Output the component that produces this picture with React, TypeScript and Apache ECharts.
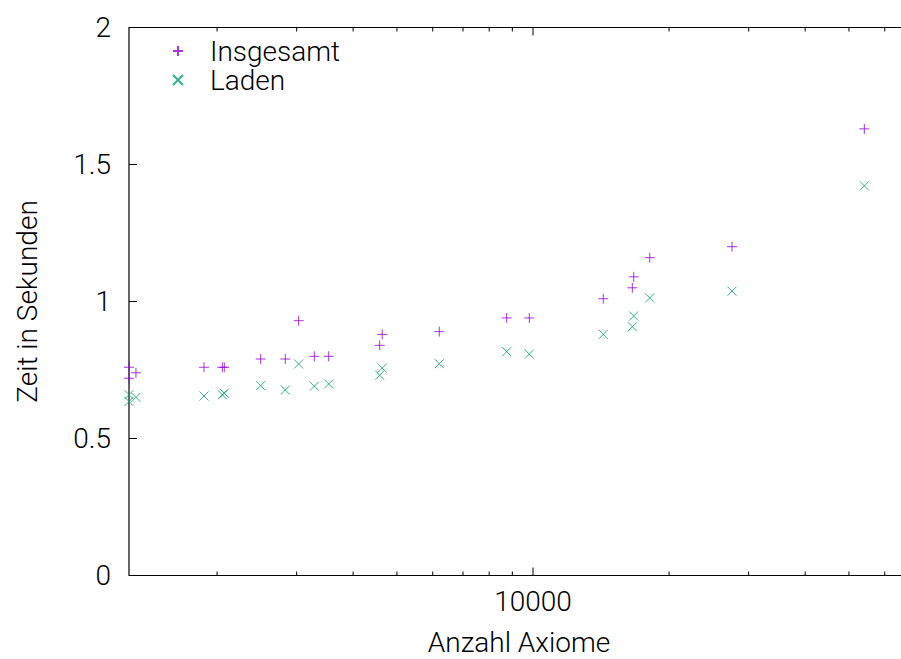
import React, { useEffect, useRef } from "react";
import * as echarts from "echarts";

// Anzahl Axiome (x) shared by both series
const axiomCounts = [
  1277, 1277, 1323, 1871, 2054, 2075, 2498, 2831, 3031, 3282, 3532,
  4579, 4638, 6203, 8745, 9813, 14304, 16586, 16704, 18124, 27556, 54075,
];
// Zeit in Sekunden
const insgesamt = [
  0.76, 0.72, 0.74, 0.76, 0.76, 0.76, 0.79, 0.79, 0.93, 0.8, 0.8,
  0.84, 0.88, 0.89, 0.94, 0.94, 1.01, 1.05, 1.09, 1.16, 1.2, 1.63,
];
const laden = [
  0.66, 0.635, 0.65, 0.655, 0.66, 0.665, 0.693, 0.677, 0.772, 0.691, 0.699,
  0.731, 0.757, 0.773, 0.817, 0.808, 0.88, 0.908, 0.947, 1.013, 1.038, 1.422,
];
const seriesNames = ["Insgesamt", "Laden"];
const xMin = 1277;
const xMax = 70000;
const majorXTicks = [10000];
const minorXTicks = [2000, 3000, 4000, 5000, 6000, 7000, 8000, 9000, 20000, 30000, 40000, 50000, 60000];
const yTicks = [0, 0.5, 1, 1.5, 2];

const FONT = "Roboto";
const WEIGHT = 300;
const TEXT = "#000";

export default function App() {
  const ref = useRef<HTMLDivElement>(null);
  useEffect(() => {
    if (!ref.current) return;
    const chart = echarts.init(ref.current, null, { renderer: "svg" });
    const tickData = [
      ...majorXTicks.map((v) => [v, 0, 8]),
      ...minorXTicks.map((v) => [v, 0, 4]),
    ];
    const font = { fontFamily: FONT, fontSize: 28, fontWeight: WEIGHT, color: TEXT };
    chart.setOption({
      animation: false,
      backgroundColor: "#fff",
      textStyle: { fontFamily: FONT },
      grid: {
        left: 129,
        top: 27.5,
        width: 786,
        height: 548,
        show: true,
        borderColor: "#000",
        borderWidth: 1.2,
        backgroundColor: "transparent",
        containLabel: false,
        outerBoundsMode: "none",
      },
      legend: {
        data: seriesNames,
        orient: "vertical",
        left: 172,
        top: 29,
        padding: 0,
        itemWidth: 10,
        itemHeight: 10,
        itemGap: -15,
        textStyle: {
          ...font,
          lineHeight: 28,
          padding: [0, 0, 16, 22],
        },
      },
      xAxis: {
        type: "log",
        logBase: 10,
        min: xMin,
        max: xMax,
        name: "Anzahl Axiome",
        nameLocation: "middle",
        nameGap: 53,
        nameTextStyle: { ...font, lineHeight: 28, padding: [0, 6, 0, 0] },
        axisLine: { show: false },
        axisTick: { show: false },
        splitLine: { show: false },
        minorTick: { show: false },
        axisLabel: {
          ...font,
          margin: 12,
          showMinLabel: false,
          showMaxLabel: false,
          formatter: (v: number) => (majorXTicks.some((t) => Math.abs(t - v) < 1e-6 * t) ? String(Math.round(v)) : ""),
        },
      },
      yAxis: {
        type: "value",
        min: yTicks[0],
        max: yTicks[yTicks.length - 1],
        interval: 0.5,
        name: "Zeit in Sekunden",
        nameLocation: "middle",
        nameGap: 88,
        nameTextStyle: { ...font },
        axisLine: { show: false },
        axisTick: { show: true, inside: true, length: 8, lineStyle: { color: "#000", width: 1 } },
        splitLine: { show: false },
        axisLabel: {
          ...font,
          margin: 18,
          formatter: (v: number) => String(v),
        },
      },
      series: [
        {
          name: seriesNames[0],
          type: "scatter",
          symbol: "path://M0,5L10,5M5,0L5,10",
          symbolSize: 10,
          itemStyle: { color: "transparent", borderColor: "#9400d3", borderWidth: 1 },
          data: axiomCounts.map((x, i) => [x, insgesamt[i]]),
          z: 3,
        },
        {
          name: seriesNames[1],
          type: "scatter",
          symbol: "path://M0,0L10,10M10,0L0,10",
          symbolSize: 9,
          itemStyle: { color: "transparent", borderColor: "#009e73", borderWidth: 1 },
          data: axiomCounts.map((x, i) => [x, laden[i]]),
          z: 3,
        },
        {
          name: "ticks",
          type: "custom",
          silent: true,
          encode: { x: 0, y: 1 },
          data: tickData,
          renderItem: (params: any, api: any) => {
            const v = api.value(0);
            const len = api.value(2);
            const pb = api.coord([v, yTicks[0]]);
            const pt = api.coord([v, yTicks[yTicks.length - 1]]);
            const st = { stroke: "#000", lineWidth: 1 };
            return {
              type: "group",
              children: [
                { type: "line", shape: { x1: pb[0], y1: pb[1], x2: pb[0], y2: pb[1] - len }, style: st },
                { type: "line", shape: { x1: pt[0], y1: pt[1], x2: pt[0], y2: pt[1] + len }, style: st },
              ],
            };
          },
          z: 2,
        },
      ],
    });
    return () => chart.dispose();
  }, []);
  return (
    <div
      ref={ref}
      style={{ position: "fixed", left: 0, top: 0, width: 901, height: 659, background: "#fff" }}
    />
  );
}
